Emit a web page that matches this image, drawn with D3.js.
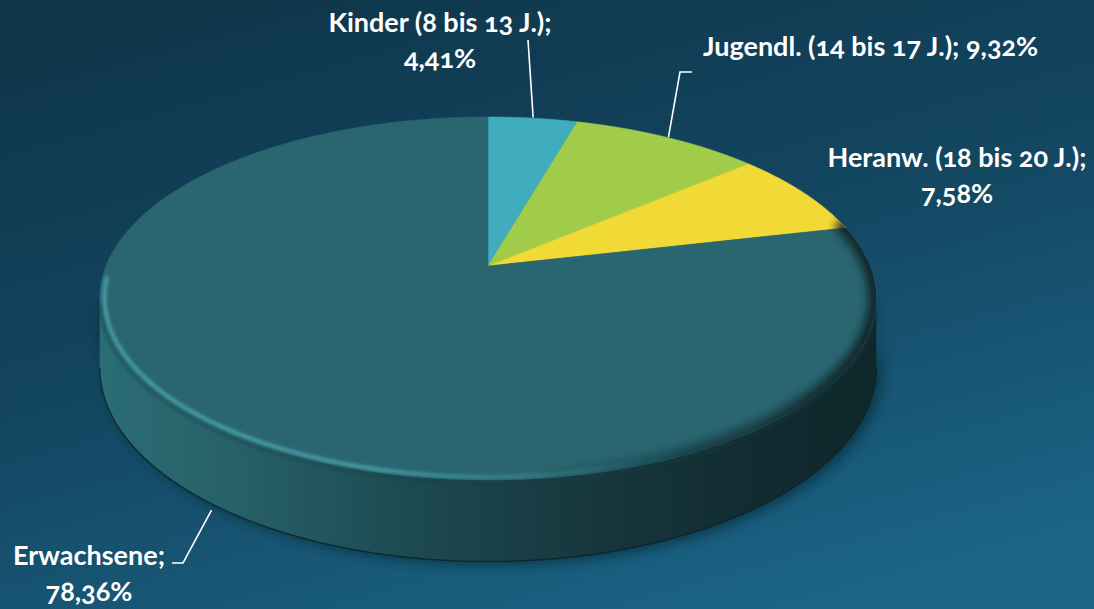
<!DOCTYPE html>
<html lang="de">
<head>
<meta charset="utf-8">
<title>Altersverteilung</title>
<script src="https://cdn.jsdelivr.net/npm/d3@7"></script>
<style>
  html, body { margin: 0; padding: 0; background: #123f56; }
  svg { display: block; }
  .lbl { font-family: Lato, "Open Sans", sans-serif; font-weight: 700; font-size: 27px; fill: #ffffff;
         font-variant-numeric: oldstyle-nums; }
</style>
</head>
<body>
<svg id="chart" width="1094" height="609"></svg>
<script>
// Anteile der Altersgruppen (in %)
const categories = ["Kinder (8 bis 13 J.)", "Jugendl. (14 bis 17 J.)", "Heranw. (18 bis 20 J.)", "Erwachsene"];
const shares = [4.41, 9.32, 7.58, 78.36];
const sliceColors = ["#3fadbd", "#a1cc49", "#f2da36", "#2a6670"];

// Label placement: line breaks, anchor point and baseline of the first line
const labelLayout = [
  { lines: 2, x: 440, y: 32, anchor: "middle", leader: [[528, 40]] },
  { lines: 1, x: 703, y: 56, anchor: "start", leader: [[692, 72], [680, 72]] },
  { lines: 2, x: 957, y: 167, anchor: "middle", leader: null },
  { lines: 2, x: 89, y: 565, anchor: "middle", leader: [[172, 563], [183, 563]] }
];

const W = 1094, H = 609;
const svg = d3.select("#chart");
const defs = svg.append("defs");

// 3D disc projection (perspective tilt)
const geo = { cx: 488, cy: 266, sr: 382, sbr: 175.7, k: 0.179, depth: 67 };
function proj(theta, z = 0, r = 1) {
  const c = Math.cos(theta) * r, s = Math.sin(theta) * r;
  const den = 1 + geo.k * c;
  return [geo.cx + geo.sr * s / den, geo.cy - geo.sbr * c / den + z * geo.depth / den];
}
function arcPoints(a0, a1, z = 0, r = 1) {
  const n = Math.max(2, Math.ceil(Math.abs(a1 - a0) / 0.01));
  return d3.range(n + 1).map(i => proj(a0 + (a1 - a0) * i / n, z, r));
}
const line = d3.line().curve(d3.curveLinear);

// Background
const bg = defs.append("linearGradient").attr("id", "bg")
  .attr("x1", 0.25).attr("y1", 0).attr("x2", 0.75).attr("y2", 1);
bg.append("stop").attr("offset", 0).attr("stop-color", "#0f374c");
bg.append("stop").attr("offset", 0.45).attr("stop-color", "#134660");
bg.append("stop").attr("offset", 1).attr("stop-color", "#1b6587");
svg.append("rect").attr("width", W).attr("height", H).attr("fill", "url(#bg)");

const pie = d3.pie().sort(null).value(d => d).startAngle(0).endAngle(2 * Math.PI);
const arcs = pie(shares);

// Side wall range (visible front part)
const thRight = Math.acos(-geo.k), thLeft = 2 * Math.PI - thRight;

// Soft shadow under the disc
const fShadow = defs.append("filter").attr("id", "shadow").attr("x", -0.2).attr("y", -0.2).attr("width", 1.4).attr("height", 1.4);
fShadow.append("feGaussianBlur").attr("stdDeviation", 6);
const shadowPts = arcPoints(thRight - 0.3, thLeft + 0.3, 1).map(p => [p[0] + 6, p[1] + 4]);
svg.append("path")
  .attr("d", line(arcPoints(thRight - 0.3, thLeft + 0.3, 0.5).concat(shadowPts.reverse())))
  .attr("fill", "#06202c").attr("opacity", 0.55).attr("filter", "url(#shadow)");

// Wall
const wallGrad = defs.append("linearGradient").attr("id", "wall")
  .attr("gradientUnits", "userSpaceOnUse").attr("x1", 100).attr("y1", 0).attr("x2", 876).attr("y2", 0);
[[0, "#2b6d75"], [0.18, "#276068"], [0.4, "#1d4a51"], [0.65, "#16363c"], [0.85, "#122b30"], [1, "#10272b"]]
  .forEach(([o, c]) => wallGrad.append("stop").attr("offset", o).attr("stop-color", c));
const wallTop = arcPoints(thRight, thLeft, 0);
const wallBot = arcPoints(thRight, thLeft, 1);
svg.append("path")
  .attr("d", line(wallTop.concat(wallBot.slice().reverse())) + "Z")
  .attr("fill", "url(#wall)");
svg.append("path").attr("d", line(wallBot))
  .attr("fill", "none").attr("stroke", "#0c2328").attr("stroke-width", 1.5).attr("opacity", 0.8);

// Top faces
svg.append("g").selectAll("path").data(arcs).join("path")
  .attr("d", d => line([proj(0, 0, 0)].concat(arcPoints(d.startAngle, d.endAngle, 0))) + "Z")
  .attr("fill", (d, i) => sliceColors[i])
  .attr("stroke", (d, i) => sliceColors[i]).attr("stroke-width", 0.6);

// Rim bevel: light edge on the left, dark edge on the right
defs.append("clipPath").attr("id", "topClip").append("path")
  .attr("d", line(arcPoints(0, 2 * Math.PI, 0)) + "Z");
const fBlur = defs.append("filter").attr("id", "soft").attr("x", -0.1).attr("y", -0.1).attr("width", 1.2).attr("height", 1.2);
fBlur.append("feGaussianBlur").attr("stdDeviation", 1.8);
const fBlur2 = defs.append("filter").attr("id", "soft2").attr("x", -0.1).attr("y", -0.1).attr("width", 1.2).attr("height", 1.2);
fBlur2.append("feGaussianBlur").attr("stdDeviation", 4);

const hiGrad = defs.append("linearGradient").attr("id", "hi")
  .attr("gradientUnits", "userSpaceOnUse").attr("x1", 100).attr("y1", 0).attr("x2", 876).attr("y2", 0);
[[0, "#4aa4ab", 0.85], [0.35, "#4aa2a9", 0.85], [0.55, "#3f9097", 0.5], [0.72, "#3f9097", 0]]
  .forEach(([o, c, a]) => hiGrad.append("stop").attr("offset", o).attr("stop-color", c).attr("stop-opacity", a));
const shGrad = defs.append("linearGradient").attr("id", "sh")
  .attr("gradientUnits", "userSpaceOnUse").attr("x1", 100).attr("y1", 0).attr("x2", 876).attr("y2", 0);
[[0, "#0c2126", 0], [0.55, "#0c2126", 0], [0.8, "#0c2126", 0.6], [1, "#0c2126", 0.95]]
  .forEach(([o, c, a]) => shGrad.append("stop").attr("offset", o).attr("stop-color", c).attr("stop-opacity", a));

const rim = svg.append("g").attr("clip-path", "url(#topClip)");
rim.append("path").attr("d", line(arcPoints(thRight - 0.45, thLeft + 0.35, 0, 1)))
  .attr("fill", "none").attr("stroke", "url(#sh)").attr("stroke-width", 16).attr("filter", "url(#soft2)");
rim.append("path").attr("d", line(arcPoints(thRight - 0.2, thLeft + 0.12, 0, 0.988)))
  .attr("fill", "none").attr("stroke", "url(#hi)").attr("stroke-width", 4).attr("filter", "url(#soft)");
// darker seam right at the wall edge
svg.append("path").attr("d", line(arcPoints(thRight, thLeft, 0.04)))
  .attr("fill", "none").attr("stroke", "#173e45").attr("stroke-width", 2).attr("opacity", 0.6).attr("filter", "url(#soft)");

// Labels
const fmt = d3.formatLocale({ decimal: ",", thousands: ".", grouping: [3], currency: ["", " €"] }).format(".2f");
const lblG = svg.append("g");
arcs.forEach((d, i) => {
  const L = labelLayout[i];
  const pct = fmt(shares[i]) + "%";
  const texts = L.lines === 2 ? [categories[i] + ";", pct] : [categories[i] + "; " + pct];
  const t = lblG.append("text").attr("class", "lbl").attr("text-anchor", L.anchor);
  texts.forEach((s, j) => t.append("tspan").attr("x", L.x).attr("y", L.y + j * 36).text(s));

  if (L.leader) {
    const mid = (d.startAngle + d.endAngle) / 2;
    const onWall = Math.cos(mid) < -geo.k;
    const end = onWall ? proj(mid, 1.08, 1.0) : proj(mid, 0, 1.005);
    lblG.append("path").attr("d", line(L.leader.concat([end])))
      .attr("fill", "none").attr("stroke", "#ffffff").attr("stroke-width", 1.6);
  }
});
</script>
</body>
</html>
